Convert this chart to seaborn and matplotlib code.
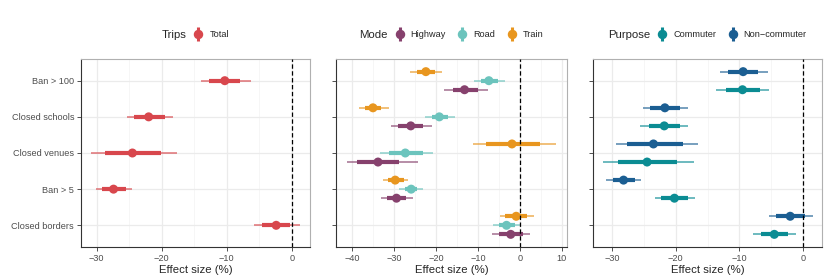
import matplotlib
matplotlib.use("Agg")
import matplotlib.pyplot as plt
import pandas as pd
import seaborn as sns
from matplotlib.lines import Line2D
from matplotlib.legend_handler import HandlerTuple
from matplotlib.offsetbox import HPacker
from matplotlib.ticker import MultipleLocator

measures = ["Ban > 100", "Closed schools", "Closed venues", "Ban > 5", "Closed borders"]

# each row: estimate, 95% low, 50% low, 50% high, 95% high (same order as measures)
total = [(-10.3, -13.9, -12.7, -7.9, -6.3), (-22.0, -25.4, -24.2, -19.5, -18.2),
         (-24.5, -30.9, -28.7, -20.1, -17.7), (-27.4, -30.1, -29.2, -25.5, -24.5),
         (-2.4, -5.8, -4.6, -0.3, 1.3)]

highway = [(-13.2, -18.0, -16.0, -10.0, -7.7), (-26.0, -30.6, -29.1, -23.0, -21.0),
           (-33.8, -41.3, -38.7, -28.8, -24.3), (-29.4, -33.2, -31.7, -27.1, -25.4),
           (-2.2, -6.6, -5.0, 0.7, 2.3)]
road = [(-7.4, -11.0, -9.2, -5.2, -3.5), (-19.2, -22.6, -21.0, -17.2, -15.5),
        (-27.3, -33.3, -31.1, -23.2, -20.8), (-25.9, -28.7, -27.4, -24.6, -23.0),
        (-3.2, -6.4, -5.0, -1.3, -0.1)]
train = [(-22.4, -26.2, -24.6, -20.2, -18.6), (-35.0, -38.3, -36.8, -33.0, -31.3),
         (-1.9, -11.1, -8.1, 4.8, 8.6), (-29.7, -32.7, -31.5, -27.7, -26.6),
         (-0.9, -4.8, -3.5, 1.7, 3.3)]

commuter = [(-9.5, -13.6, -12.1, -6.8, -5.4), (-21.8, -25.6, -24.2, -19.3, -18.0),
            (-24.5, -31.4, -29.0, -19.8, -17.1), (-20.2, -23.3, -22.3, -18.0, -16.9),
            (-4.5, -7.8, -6.6, -2.3, -1.1)]
non_commuter = [(-9.4, -13.1, -11.8, -7.0, -5.5), (-21.7, -25.1, -24.0, -19.4, -18.1),
                (-23.5, -29.4, -27.6, -18.9, -16.5), (-28.2, -30.9, -29.9, -26.4, -25.4),
                (-2.0, -5.3, -4.2, 0.3, 1.6)]

panels = [
    ("Trips", ["Total"], [total], ["#d8474d"], (-32.4, 2.8), 10),
    ("Mode", ["Highway", "Road", "Train"], [highway, road, train],
     ["#86416d", "#6cc4bd", "#e8961f"], (-43.8, 11.2), 10),
    ("Purpose", ["Commuter", "Non\u2212commuter"], [commuter, non_commuter],
     ["#0b8c93", "#1b5e92"], (-33.0, 3.0), 10),
]

rows = []
for title, groups, series, colors, _, _ in panels:
    n = len(groups)
    for k, (g, vals) in enumerate(zip(groups, series)):
        # first group drawn lowest inside each measure (ggplot dodge, width 0.5)
        off = 0.0 if n == 1 else 0.25 - 0.5 * k / (n - 1)
        for i, (m, v) in enumerate(zip(measures, vals)):
            rows.append(dict(panel=title, group=g, measure=m, pos=i + off,
                             est=v[0], lo95=v[1], lo50=v[2], hi50=v[3], hi95=v[4]))
df = pd.DataFrame(rows)

sns.set_theme(style="white")
plt.rcParams["font.family"] = ["Liberation Sans", "DejaVu Sans"]

fig = plt.figure(figsize=(8.3, 2.77), dpi=100)
lefts = [81, 336, 593]
widths = [229, 231, 229]

for j, (title, groups, series, colors, xlim, step) in enumerate(panels):
    ax = fig.add_axes([lefts[j] / 830, 30 / 277, widths[j] / 830, 188 / 277])
    sub = df[df.panel == title]
    pal = dict(zip(groups, colors))

    ax.xaxis.set_major_locator(MultipleLocator(step))
    ax.xaxis.set_minor_locator(MultipleLocator(step / 2))
    ax.grid(which="major", axis="both", color="#ebebeb", lw=0.9, zorder=0)
    ax.grid(which="minor", axis="x", color="#f3f3f3", lw=0.5, zorder=0)
    ax.set_axisbelow(True)

    for g in groups:
        s = sub[sub.group == g]
        ax.hlines(s.pos, s.lo95, s.hi95, color=pal[g], lw=1.4, alpha=0.6, zorder=2)
        ax.hlines(s.pos, s.lo50, s.hi50, color=pal[g], lw=3.0, zorder=3)
    sns.scatterplot(data=sub, x="est", y="pos", hue="group", palette=pal, s=42,
                    linewidth=0, legend=False, ax=ax, zorder=4)
    ax.axvline(0, color="black", ls=(0, (3.5, 2)), lw=0.9, zorder=5)

    ax.set_xlim(*xlim)
    ax.set_ylim(4.6, -0.6)
    ax.set_yticks(range(len(measures)))
    ax.set_yticklabels(measures if j == 0 else [])
    ax.set_xlabel("Effect size (%)", fontsize=8.2, labelpad=1.5)
    ax.set_ylabel("")
    ax.tick_params(axis="both", which="major", length=3, width=0.6, color="#333333",
                   labelsize=6.6, labelcolor="#4d4d4d", pad=2, left=True, bottom=True)
    ax.tick_params(which="minor", length=0)
    for side in ["left", "bottom"]:
        ax.spines[side].set_color("#333333")
        ax.spines[side].set_linewidth(0.8)
    for side in ["top", "right"]:
        ax.spines[side].set_color("#b0b0b0")
        ax.spines[side].set_linewidth(0.8)

    handles = [(Line2D([], [], color=c, lw=0, marker="o", markersize=5.8),
                Line2D([], [], color=c, lw=0, marker="|", markersize=10, markeredgewidth=2.2))
               for c in colors]
    leg = ax.legend(handles, groups, title=title, handler_map={tuple: HandlerTuple(ndivide=1)},
                    loc="center", bbox_to_anchor=(0.5, 1.128), ncol=len(groups), frameon=False,
                    fontsize=6.6, title_fontsize=8.2, handlelength=1.0, handletextpad=0.7,
                    columnspacing=1.3)
    # put the legend title to the left of the keys, ggplot style
    box = HPacker(pad=0, sep=5, align="center",
                  children=[leg._legend_title_box, leg._legend_handle_box])
    box.set_figure(fig)
    box.axes = ax
    box.set_offset(leg._findoffset)
    leg._legend_box = box

fig.savefig("out.png", dpi=100)
